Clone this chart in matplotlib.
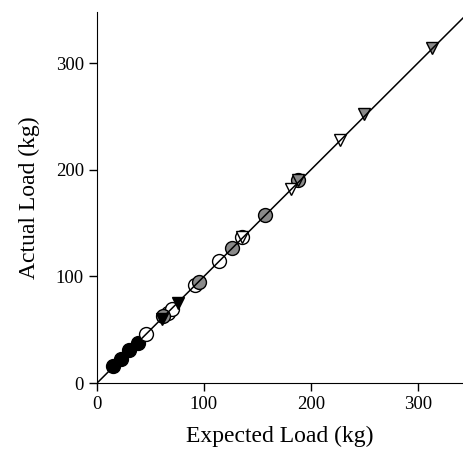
import numpy as np
import matplotlib.pyplot as plt

plt.rcParams['font.family'] = ['Liberation Serif', 'DejaVu Serif']

# black filled circles
black_x = [15, 22, 30, 38]
black_y = [16, 23, 31, 38]
# white circles
white_x = [46, 66, 70, 92, 114, 136]
white_y = [46, 66, 69, 92, 114, 137]
# gray circles
gray_x = [62, 95, 126, 157, 188]
gray_y = [63, 95, 127, 158, 190]
# black down triangles
btri_x = [61, 76]
btri_y = [60, 75]
# white down triangles
wtri_x = [136, 181, 227]
wtri_y = [137, 182, 228]
# gray down triangles
gtri_x = [188, 250, 313]
gtri_y = [190, 252, 314]

line_x = [0, 345]
line_y = [0, 345]

fig = plt.figure(figsize=(4.63, 4.55), dpi=100)
ax = fig.add_axes([0.2095, 0.158, 0.79, 0.816])

ax.plot(line_x, line_y, color='black', lw=1.1, zorder=5)

kw = dict(linestyle='none', markeredgecolor='black', markeredgewidth=1.0, zorder=3)
ax.plot(black_x, black_y, 'o', markerfacecolor='black', markersize=10, **kw)
ax.plot(white_x, white_y, 'o', markerfacecolor='white', markersize=10, **kw)
ax.plot(gray_x, gray_y, 'o', markerfacecolor='#8a8a8a', markersize=10, **kw)
ax.plot(btri_x, btri_y, 'v', markerfacecolor='black', markersize=8.5, **kw)
ax.plot(wtri_x, wtri_y, 'v', markerfacecolor='white', markersize=8.5, **kw)
ax.plot(gtri_x, gtri_y, 'v', markerfacecolor='#8a8a8a', markersize=8.5, **kw)

ax.set_xlim(0, 342)
ax.set_ylim(0, 348)
ax.set_xticks([0, 100, 200, 300])
ax.set_yticks([0, 100, 200, 300])
ax.spines['top'].set_visible(False)
ax.spines['right'].set_visible(False)
ax.tick_params(direction='out', length=6, width=1, labelsize=13.5)
ax.set_xlabel('Expected Load (kg)', fontsize=17, labelpad=9)
ax.set_ylabel('Actual Load (kg)', fontsize=17, labelpad=11)

fig.savefig('out.png', dpi=100)
